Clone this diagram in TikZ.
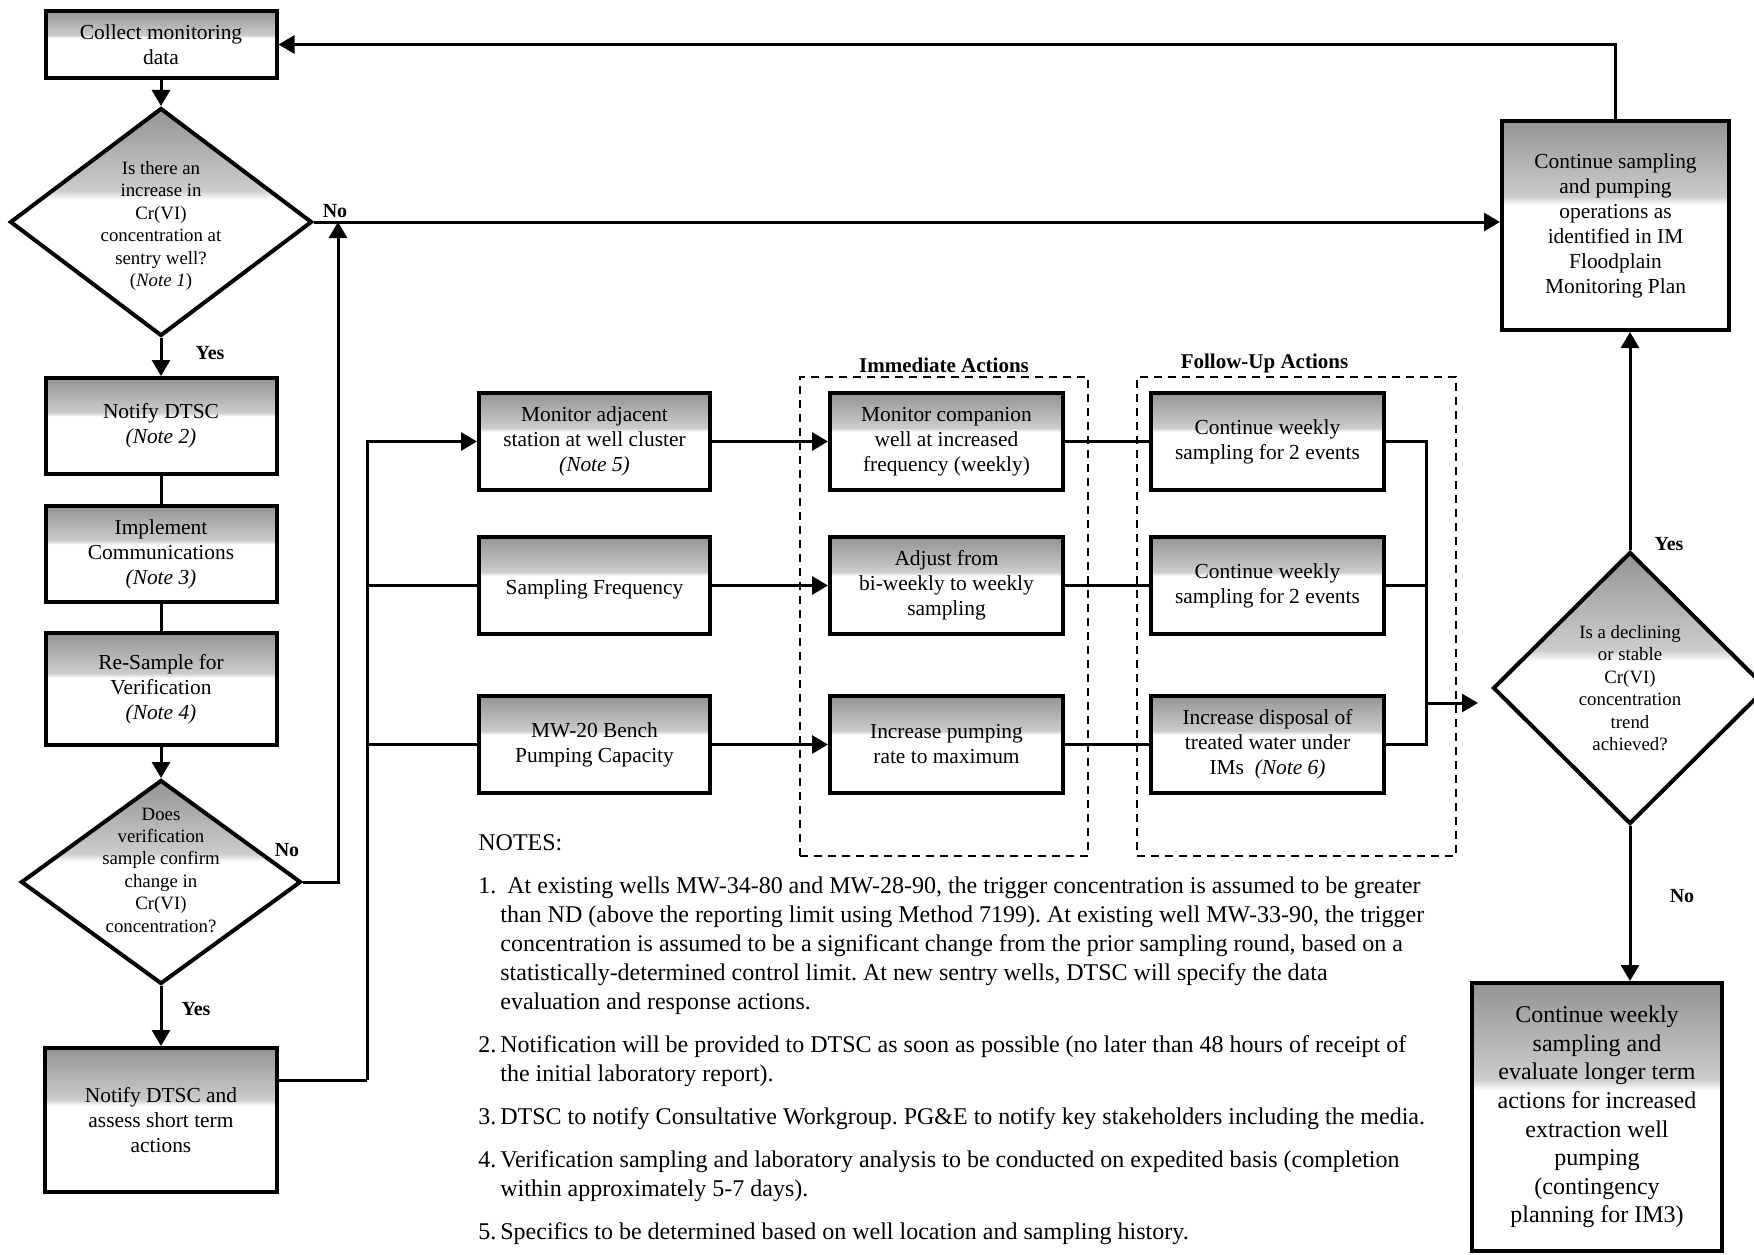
\documentclass[tikz,border=0pt]{standalone}
\usepackage{fontspec}
\setmainfont{Liberation Serif}
\usetikzlibrary{arrows.meta,shapes.geometric}
\newcommand{\flowfont}{\fontsize{10.7}{12.5}\selectfont}
\newcommand{\askfont}{\fontsize{9.4}{11.2}\selectfont}
\newcommand{\bigflowfont}{\fontsize{12}{14.3}\selectfont}
\newcommand{\notefont}{\fontsize{12}{14.5}\selectfont\frenchspacing}
\newcommand{\notehint}[1]{\textit{(Note #1)}}
\pgfdeclareverticalshading{boxfade}{100bp}{color(0bp)=(white); color(55bp)=(white); color(57bp)=(black!20); color(75bp)=(black!42); color(100bp)=(black!42)}

\begin{document}
\begin{tikzpicture}[x=0.5pt, y=-0.5pt,
		procbox/.style={draw, line width=2pt, shade, shading=boxfade, align=center,
			font=\flowfont, minimum width=115.5pt, minimum height=48.5pt, inner sep=2pt,
			execute at begin node={\rule{0pt}{11pt}}},
		decision/.style={diamond, draw, line width=2pt, shade, shading=boxfade, inner sep=0pt},
		asktext/.style={align=center, font=\askfont, inner sep=0pt},
		group/.style={draw, line width=1pt, dash pattern=on 4pt off 3pt, inner sep=0pt,
			minimum height=239.5pt},
		grouptitle/.style={anchor=south, font=\bfseries\fontsize{10.5}{12}\selectfont, inner sep=1.5pt},
		answer/.style={font=\bfseries\fontsize{10}{12}\selectfont, inner sep=0pt},
		flow/.style={line width=1.5pt, -{Triangle[length=8pt,width=9pt]}},
		link/.style={line width=1.5pt}]
	\useasboundingbox (0,0) rectangle (1754,1254);

	% action groups
	\node[group, minimum width=144pt] (immgroup) at (944,616.5) {};
	\node[group, minimum width=159.5pt] (fugroup) at (1296.5,616.5) {};
	\node[grouptitle] (immtitle) at (immgroup.north) {Immediate Actions};
	\node[grouptitle] (futitle) at ([xshift=-16pt]fugroup.north) {Follow-Up Actions};

	% left column
	\node[procbox, minimum height=33.5pt] (collect) at (161,44.5) {Collect monitoring\\ data};
	\node[decision, minimum width=151pt, minimum height=114pt] (d1) at (161,222) {};
	\node[asktext] (d1text) at ([yshift=-2pt]d1.center) {Is there an\\ increase in\\ Cr(VI)\\ concentration at\\ sentry well?\\ (\textit{Note 1})};
	\node[procbox, minimum height=48pt] (notify) at (161,426) {Notify DTSC\\ \notehint{2}};
	\node[procbox, minimum height=48pt] (impl) at (161,554) {Implement\\ Communications\\ \notehint{3}};
	\node[procbox, minimum height=56pt] (resample) at (161,689) {Re-Sample for\\ Verification\\ \notehint{4}};
	\node[decision, minimum width=140pt, minimum height=102pt] (d2) at (161,882) {};
	\node[asktext] (d2text) at ([yshift=6pt]d2.center) {Does\\ verification\\ sample confirm\\ change in\\ Cr(VI)\\ concentration?};
	\node[procbox, minimum width=116pt, minimum height=72pt] (assess) at (161,1120) {Notify DTSC and\\ assess short term\\ actions};

	% middle columns
	\node[procbox] (mon) at (594.5,441.5) {Monitor adjacent\\ station at well cluster\\ \notehint{5}};
	\node[procbox] (freq) at (594.5,585.5) {Sampling Frequency};
	\node[procbox] (pump) at (594.5,744.5) {MW-20 Bench\\ Pumping Capacity};
	\node[procbox, minimum width=116.5pt] (comp) at (946.5,441.5) {Monitor companion\\ well at increased\\ frequency (weekly)};
	\node[procbox, minimum width=116.5pt] (adj) at (946.5,585.5) {Adjust from\\ bi-weekly to weekly\\ sampling};
	\node[procbox, minimum width=116.5pt] (incr) at (946.5,744.5) {Increase pumping\\ rate to maximum};
	\node[procbox, minimum width=116.5pt] (cw1) at (1267.5,441.5) {Continue weekly\\ sampling for 2 events};
	\node[procbox, minimum width=116.5pt] (cw2) at (1267.5,585.5) {Continue weekly\\ sampling for 2 events};
	\node[procbox, minimum width=116.5pt] (disp) at (1267.5,744.5) {Increase disposal of\\ treated water under\\ IMs\ \ \notehint{6}};

	% right column
	\node[procbox, minimum width=113.5pt, minimum height=104.5pt] (cont) at (1615.5,225.5) {Continue sampling\\ and pumping\\ operations as\\ identified in IM\\ Floodplain\\ Monitoring Plan};
	\node[decision, minimum width=137pt, minimum height=136pt] (d3) at (1630,688) {};
	\node[asktext] (d3text) at (d3) {Is a declining\\ or stable\\ Cr(VI)\\ concentration\\ trend\\ achieved?};
	\node[procbox, font=\bigflowfont, minimum width=125pt, minimum height=134pt] (longer) at (1597,1117) {Continue weekly\\ sampling and\\ evaluate longer term\\ actions for increased\\ extraction well\\ pumping\\ (contingency\\ planning for IM3)};

	% answers
	\node[answer] (d1no) at (335,211) {No};
	\node[answer] (d1yes) at (210,353) {Yes};
	\node[answer] (d2no) at (287,850) {No};
	\node[answer] (d2yes) at (196,1009) {Yes};
	\node[answer] (d3yes) at (1669,544) {Yes};
	\node[answer] (d3no) at (1682,896) {No};

	% connectors
	\coordinate (nojoin) at (338,222);
	\coordinate (split) at (367,1080);
	\coordinate (merge) at (1426,703);
	\coordinate (d3in) at (1478,703);
	\draw[flow] (collect) -- (d1);
	\draw[flow] (d1) -- (notify);
	\draw[link] (notify) -- (impl);
	\draw[link] (impl) -- (resample);
	\draw[flow] (resample) -- (d2);
	\draw[flow] (d2) -- (assess);
	\draw[flow] (d1.east) -- (d1.east -| cont.west);
	\draw[flow] (d2.east) -| (nojoin);
	\draw[flow] (cont.north) |- (collect.east);
	\draw[link] (assess.east |- split) -- (split);
	\draw[flow] (split) |- (mon.west);
	\draw[link] (split |- freq) -- (freq.west);
	\draw[link] (split |- pump) -- (pump.west);
	\draw[flow] (mon) -- (comp);
	\draw[flow] (freq) -- (adj);
	\draw[flow] (pump) -- (incr);
	\draw[link] (comp) -- (cw1);
	\draw[link] (adj) -- (cw2);
	\draw[link] (incr) -- (disp);
	\draw[link] (cw1.east) -| (merge |- disp.east) -- (disp.east);
	\draw[link] (cw2.east) -- (cw2.east -| merge);
	\draw[flow] (merge) -- (d3in);
	\draw[flow] (d3.north) -- (d3.north |- cont.south);
	\draw[flow] (d3.south) -- (d3.south |- longer.north);

	% notes
	\node[anchor=base west, font=\notefont, inner sep=0pt] (notehead) at (478,850) {NOTES:};
	\node[anchor=north west, font=\notefont, inner sep=0pt] (notelist) at (478,873) {%
		\begin{tabular}{@{}p{11pt}@{}l@{}}
			1. & \hspace{3.5pt}At existing wells MW-34-80 and MW-28-90, the trigger concentration is assumed to be greater\\
			& than ND (above the reporting limit using Method 7199). At existing well MW-33-90, the trigger\\
			& concentration is assumed to be a significant change from the prior sampling round, based on a\\
			& statistically-determined control limit. At new sentry wells, DTSC will specify the data\\
			& evaluation and response actions.\\[7pt]
			2. & Notification will be provided to DTSC as soon as possible (no later than 48 hours of receipt of\\
			& the initial laboratory report).\\[7pt]
			3. & DTSC to notify Consultative Workgroup. PG\&E to notify key stakeholders including the media.\\[7pt]
			4. & Verification sampling and laboratory analysis to be conducted on expedited basis (completion\\
			& within approximately 5-7 days).\\[7pt]
			5. & Specifics to be determined based on well location and sampling history.
		\end{tabular}};
\end{tikzpicture}
\end{document}
